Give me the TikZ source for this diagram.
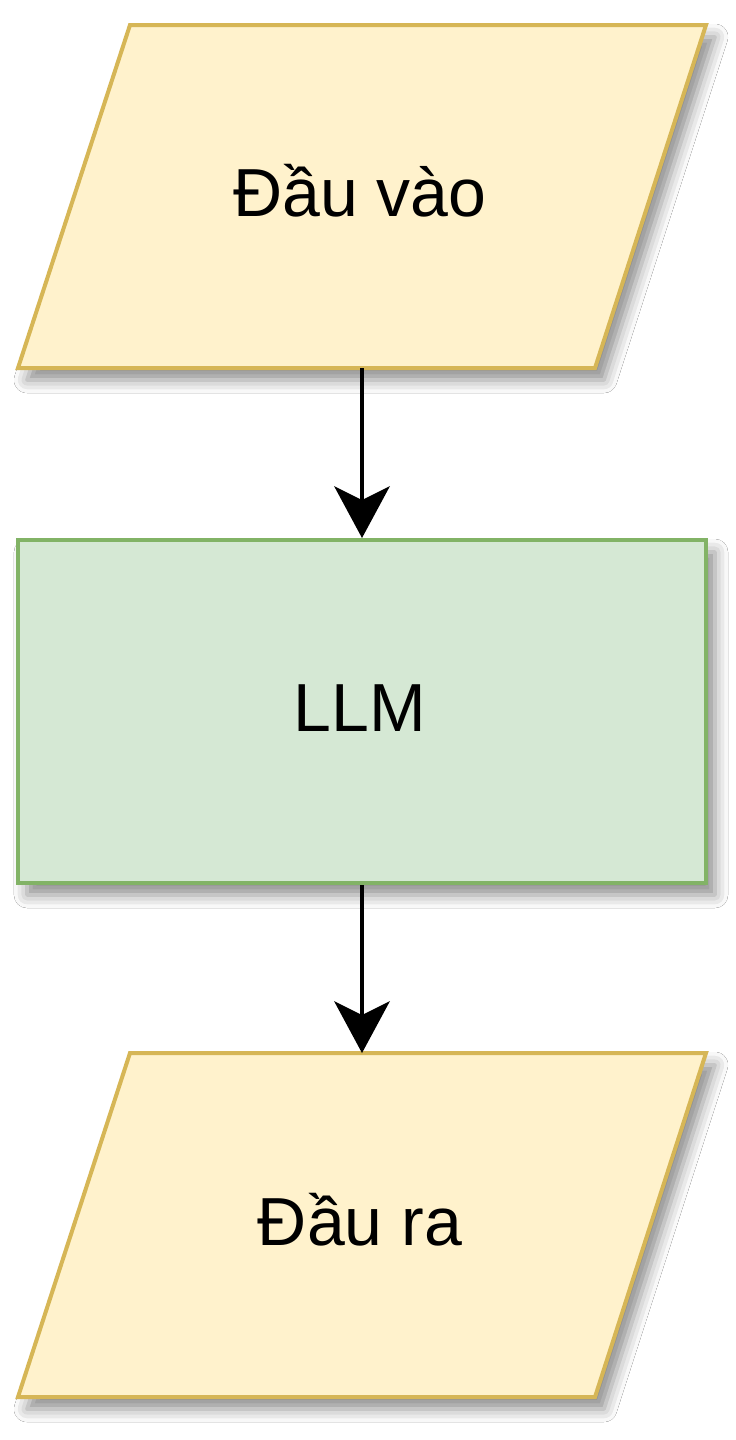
\documentclass[tikz,border=0pt]{standalone}
\usepackage{fontspec}
\setmainfont{Liberation Sans}
\usetikzlibrary{arrows.meta,shadows.blur}
\definecolor{yfill}{HTML}{FFF2CC}
\definecolor{ydraw}{HTML}{D6B656}
\definecolor{gfill}{HTML}{D5E8D4}
\definecolor{gdraw}{HTML}{82B366}
\tikzset{
  softshadow/.style={blur shadow={shadow xshift=9pt, shadow yshift=-12pt, shadow blur radius=13pt, shadow opacity=45}},
  iobox/.style={fill=yfill, draw=ydraw, line width=4pt, line join=miter, softshadow},
  procbox/.style={rectangle, fill=gfill, draw=gdraw, line width=4pt, inner sep=0pt,
    minimum width=688pt, minimum height=343pt, softshadow},
  lbl/.style={anchor=base, inner sep=0pt, font=\fontsize{68}{80}\selectfont},
  flow/.style={line width=4pt, -{Stealth[length=52pt, width=56pt, inset=14pt, fill=black, line width=0pt]}}
}
\begin{document}
\begin{tikzpicture}[x=1pt,y=-1pt]
\useasboundingbox[fill=white] (0,0) rectangle (736,1440);
% input
\path[iobox] (130,25) -- (706,25) -- (595,368) -- (18,368) -- cycle;
\node[lbl] (intext) at (360,216) {Đầu vào};
\coordinate (inbot) at (362,368);
% LLM
\node[procbox] (llm) at (362,711.5) {};
\node[lbl] (llmtext) at (360,731) {LLM};
% output
\path[iobox] (130,1053) -- (706,1053) -- (595,1397) -- (18,1397) -- cycle;
\node[lbl] (outtext) at (360,1245) {Đầu ra};
\coordinate (outtop) at (362,1053);
% connectors
\draw[flow] (inbot) -- (llm.north);
\draw[flow] (llm.south) -- (outtop);
\end{tikzpicture}
\end{document}
